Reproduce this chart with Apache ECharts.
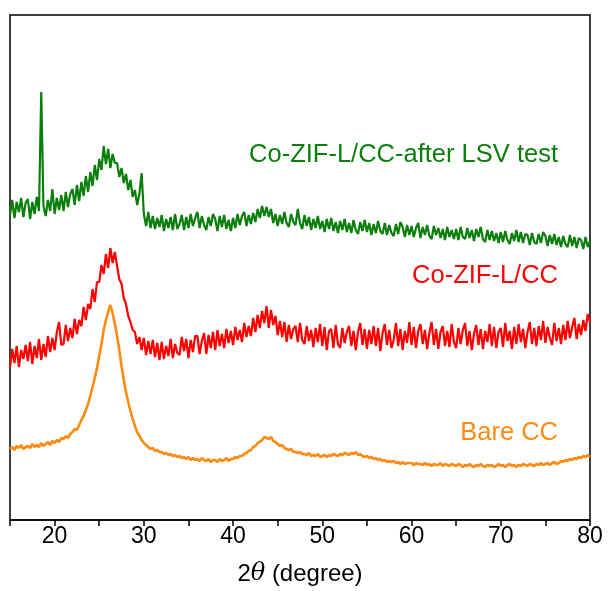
<!DOCTYPE html>
<html><head><meta charset="utf-8">
<script src="https://cdn.jsdelivr.net/npm/echarts@6/dist/echarts.min.js"></script>
<style>html,body{margin:0;padding:0;background:#fff}#c{width:608px;height:591px}</style>
</head><body><div id="c"></div>
<script>
// 2θ grid: start 15°, step 0.25°, up to 80°
const thetaStart = 15, thetaStep = 0.25;
const xTicks = [20, 30, 40, 50, 60, 70, 80];
const seriesNames = ['Co-ZIF-L/CC-after LSV test', 'Co-ZIF-L/CC', 'Bare CC'];

const greenVals = [
305,320,302,318, 308,322,303,317, 321,301,318,306, 323,309,428,314, 304,320,309,331,
306,322,310,325, 309,328,313,326, 331,315,335,319, 338,324,344,328, 348,334,355,340,
361,350,374,356, 371,352,366,357, 357,343,352,337, 346,330,340,323, 330,315,326,347,
306,294,308,292, 304,291,302,293, 305,289,301,292, 303,290,306,291, 296,305,290,303,
292,306,294,302, 308,292,304,295, 290,303,294,306, 301,289,304,293, 305,291,300,289,
302,292,306,295, 304,308,294,305, 296,307,298,311, 302,314,304,313, 303,311,297,306,
294,305,296,308, 297,293,306,298, 295,311,297,291, 305,294,303,290, 301,292,304,291,
299,288,301,291, 302,289,298,287, 299,290,301,288, 297,287,300,290, 286,298,289,300,
288,297,285,296, 287,299,289,286, 297,285,295,287, 284,296,286,298, 293,283,295,285,
294,283,292,297, 282,293,285,295, 284,281,294,285, 292,282,291,280, 293,283,290,281,
291,280,293,283, 281,292,282,290, 279,291,283,293, 281,278,290,280, 289,279,287,277,
288,278,289,280, 276,287,279,290, 278,288,277,286, 285,275,287,278, 276,286,277,288,
284,274,285,276, 286,275,283,273, 284,276,273,285, 274,283,272,282, 280,271,283,273,
279];

const redVals = [
152,171,157,174, 153,170,161,175, 159,178,156,174, 162,181,160,176, 163,184,168,182,
170,188,198,175, 176,195,179,192, 182,201,186,200, 194,213,200,216, 211,231,218,238,
238,255,246,266, 252,272,257,268, 254,241,236,222, 216,204,198,190, 188,176,183,170,
182,165,179,166, 180,163,177,160, 178,161,174,164, 181,162,176,167, 165,183,169,181,
162,180,168,184, 184,166,179,187, 166,185,172,188, 170,190,174,186, 172,191,177,189,
175,193,180,190, 178,197,183,194, 184,202,188,205, 192,209,197,214, 192,210,195,204,
185,199,183,198, 178,195,181,191, 194,178,197,180, 176,194,179,190, 173,192,178,196,
174,193,170,189, 191,172,195,176, 172,192,177,188, 194,174,189,170, 188,197,175,191,
171,190,176,194, 174,192,169,187, 196,175,190,172, 180,197,174,191, 170,189,177,198,
175,193,172,189, 196,176,190,171, 187,198,175,191, 171,188,194,174, 189,173,196,178,
172,192,176,190, 197,174,189,170, 186,195,175,191, 171,189,178,196, 174,193,172,188,
192,173,197,179, 189,171,193,176, 196,178,191,172, 188,198,176,192, 174,194,180,199,
177,193,182,175, 197,179,192,176, 195,180,199,182, 193,202,181,196, 185,200,189,206,
198];

const orangeVals = [
71,73,70,74, 72,75,71,73, 74,72,76,73, 75,73,77,74, 76,78,75,79,
77,80,78,82, 81,84,82,86, 88,91,90,95, 100,104,110,116, 124,133,142,152,
164,176,190,200, 208,215,207,196, 184,170,154,140, 128,118,109,101, 94,88,84,80,
77,75,73,71, 72,69,70,68, 68,66,67,65, 66,64,65,63, 64,62,63,61,
63,60,62,60, 61,59,62,60, 59,61,58,60, 60,58,61,59, 60,62,59,61,
61,63,62,64, 64,66,67,69, 70,73,74,77, 78,80,83,82, 81,83,79,78,
76,74,75,72, 71,70,71,68, 68,67,68,66, 66,65,67,64, 65,64,66,63,
64,65,63,65, 64,66,65,64, 66,65,67,66, 65,67,66,68, 65,66,64,63,
64,62,63,61, 62,60,61,59, 60,58,59,58, 59,57,58,56, 58,56,57,57,
57,55,57,56, 56,55,57,55, 56,54,56,55, 55,57,54,56, 55,54,56,55,
54,56,55,53, 55,54,56,54, 53,55,54,56, 54,53,55,54, 55,53,54,56,
54,55,53,55, 56,54,55,53, 55,54,56,55, 54,56,55,54, 56,55,57,55,
56,57,55,57, 58,56,57,59, 58,60,59,61, 60,62,61,63, 62,64,63,65,
63];

const colors = ['#0b7f0b', '#ff0000', '#ff8a12'];

function pairs(vals) { return vals.map((v, i) => [thetaStart + i * thetaStep, v]); }

const chart = echarts.init(document.getElementById('c'), null, {renderer: 'canvas'});
const font = 'Liberation Sans, Arial, sans-serif';
chart.setOption({
  animation: false,
  grid: {left: 10, right: 18, top: 15, bottom: 71, show: true, borderColor: '#000', borderWidth: 1.5},
  xAxis: {
    type: 'value', min: 15, max: 80, interval: 5,
    axisLine: {show: true, lineStyle: {color: '#000', width: 1.5}},
    axisTick: {show: true, inside: false, length: 6, lineStyle: {color: '#000', width: 1.5}},
    axisLabel: {
      color: '#000', fontSize: 23, fontFamily: font, margin: 5,
      formatter: v => (xTicks.indexOf(v) >= 0 ? String(v) : '')
    },
    splitLine: {show: false},
    name: '2{i|θ} (degree)', nameLocation: 'middle', nameGap: 42,
    nameTextStyle: {color: '#000', fontSize: 24, fontFamily: font,
      rich: {i: {fontStyle: 'italic', fontSize: 24, fontFamily: 'DejaVu Serif, serif', color: '#000'}}}
  },
  yAxis: {
    type: 'value', min: 0, max: 505,
    axisLine: {show: false}, axisTick: {show: false}, axisLabel: {show: false}, splitLine: {show: false}
  },
  series: [
    {name: seriesNames[0], type: 'line', data: pairs(greenVals), showSymbol: false, lineStyle: {color: colors[0], width: 2.2}},
    {name: seriesNames[1], type: 'line', data: pairs(redVals), showSymbol: false, lineStyle: {color: colors[1], width: 2.2}},
    {name: seriesNames[2], type: 'line', data: pairs(orangeVals), showSymbol: false, lineStyle: {color: colors[2], width: 2.6}}
  ],
  graphic: [
    {type: 'text', x: 558, y: 155, style: {text: seriesNames[0], fill: colors[0], font: '25.5px ' + font, align: 'right', verticalAlign: 'middle'}},
    {type: 'text', x: 558, y: 276, style: {text: seriesNames[1], fill: colors[1], font: '25.5px ' + font, align: 'right', verticalAlign: 'middle'}},
    {type: 'text', x: 558, y: 433, style: {text: seriesNames[2], fill: colors[2], font: '25.5px ' + font, align: 'right', verticalAlign: 'middle'}}
  ]
});
</script></body></html>
